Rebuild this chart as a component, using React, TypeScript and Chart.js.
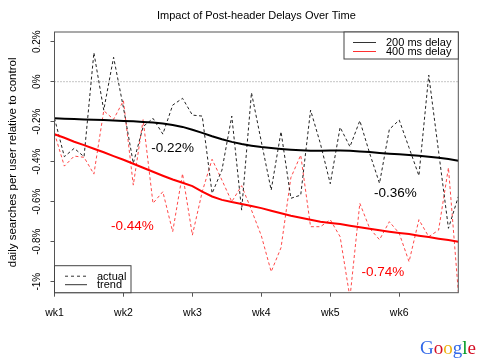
import React, { useEffect, useRef } from "react";
import { Chart, registerables } from "chart.js";

Chart.register(...registerables);

const days = [0,1,2,3,4,5,6,7,8,9,10,11,12,13,14,15,16,17,18,19,20,21,22,23,24,25,26,27,28,29,30,31,32,33,34,35,36,37,38,39,40,41];
const weekTicks = [0, 7, 14, 21, 28, 35];
const weekLabels = ["wk1", "wk2", "wk3", "wk4", "wk5", "wk6"];
const yTicks = [-1, -0.8, -0.6, -0.4, -0.2, 0, 0.2];
const yTickLabels = ["-1%", "-0.8%", "-0.6%", "-0.4%", "-0.2%", "0%", "0.2%"];

const actual200 = [-0.183,-0.375,-0.333,-0.375,0.145,-0.142,0.122,-0.13,-0.408,-0.225,-0.183,-0.262,-0.117,-0.083,-0.167,-0.172,-0.558,-0.442,-0.172,-0.642,-0.055,-0.30,-0.542,-0.25,-0.583,-0.567,-0.142,-0.31,-0.51,-0.228,-0.325,-0.195,-0.358,-0.508,-0.238,-0.192,-0.33,-0.47,0.033,-0.35,-0.733,-0.575];
const actual400 = [-0.258,-0.422,-0.372,-0.378,-0.462,-0.145,-0.188,-0.095,-0.517,-0.19,-0.608,-0.55,-0.75,-0.46,-0.767,-0.55,-0.388,-0.492,-0.6,-0.52,-0.642,-0.77,-0.95,-0.83,-0.48,-0.367,-0.725,-0.725,-0.69,-0.775,-1.08,-0.608,-0.733,-0.79,-0.70,-0.758,-0.90,-0.69,-0.775,-0.742,-0.43,-1.05];
const trend200 = [-0.183,-0.185,-0.187,-0.189,-0.19,-0.192,-0.194,-0.196,-0.198,-0.201,-0.204,-0.209,-0.216,-0.226,-0.24,-0.256,-0.273,-0.288,-0.301,-0.312,-0.32,-0.327,-0.332,-0.336,-0.34,-0.343,-0.345,-0.345,-0.344,-0.344,-0.345,-0.349,-0.352,-0.356,-0.36,-0.363,-0.366,-0.37,-0.375,-0.38,-0.387,-0.395];
const trend400 = [-0.263,-0.28,-0.30,-0.317,-0.335,-0.353,-0.372,-0.39,-0.41,-0.43,-0.45,-0.47,-0.489,-0.505,-0.522,-0.55,-0.574,-0.591,-0.602,-0.611,-0.621,-0.632,-0.645,-0.658,-0.67,-0.68,-0.69,-0.70,-0.706,-0.712,-0.72,-0.728,-0.735,-0.743,-0.75,-0.756,-0.762,-0.77,-0.777,-0.785,-0.792,-0.80];

const seriesNames = ["200 ms delay", "400 ms delay"];
const styleNames = ["actual", "trend"];
const titleText = "Impact of Post-header Delays Over Time";
const yTitle = "daily searches per user relative to control";
const annotTexts = ["-0.22%", "-0.36%", "-0.44%", "-0.74%"];
const annotDays = [12.0, 34.6, 7.9, 33.35];
const annotValues = [-0.332, -0.557, -0.722, -0.952];
const annotColors = ["#000000", "#000000", "#ff0000", "#ff0000"];
const logoLetters = ["G", "o", "o", "g", "l", "e"];
const logoColors = ["#3369e8", "#d50f25", "#eeb211", "#3369e8", "#009925", "#d50f25"];

const FONT = "'Liberation Sans', Arial, sans-serif";

const rPlugin = {
  id: "rstyle",
  beforeDatasetsDraw(chart: any) {
    const { ctx, chartArea } = chart;
    const y0 = chart.scales.y.getPixelForValue(0);
    ctx.save();
    ctx.strokeStyle = "#8a8a8a";
    ctx.lineWidth = 1;
    ctx.setLineDash([1, 2]);
    ctx.beginPath();
    ctx.moveTo(chartArea.left, y0);
    ctx.lineTo(chartArea.right, y0);
    ctx.stroke();
    ctx.restore();
  },
  afterDraw(chart: any) {
    const { ctx, chartArea } = chart;
    const xs = chart.scales.x;
    const ys = chart.scales.y;
    ctx.save();
    ctx.strokeStyle = "#555";
    ctx.lineWidth = 1;
    ctx.setLineDash([]);
    ctx.strokeRect(chartArea.left, chartArea.top, chartArea.right - chartArea.left, chartArea.bottom - chartArea.top);

    ctx.fillStyle = "#000";
    ctx.font = `11px ${FONT}`;
    ctx.textAlign = "center";
    ctx.textBaseline = "middle";
    ctx.fillText(titleText, (chartArea.left + chartArea.right) / 2, 16);

    ctx.font = `10.5px ${FONT}`;
    weekTicks.forEach((v, i) => {
      ctx.fillText(weekLabels[i], xs.getPixelForValue(v), 313);
    });
    ctx.font = `10px ${FONT}`;
    yTicks.forEach((v, i) => {
      ctx.save();
      ctx.translate(37, ys.getPixelForValue(v));
      ctx.rotate(-Math.PI / 2);
      ctx.fillText(yTickLabels[i], 0, 0);
      ctx.restore();
    });
    ctx.save();
    ctx.font = `11.5px ${FONT}`;
    ctx.translate(13, (chartArea.top + chartArea.bottom) / 2);
    ctx.rotate(-Math.PI / 2);
    ctx.fillText(yTitle, 0, 0);
    ctx.restore();

    ctx.font = `13.5px ${FONT}`;
    annotTexts.forEach((t, i) => {
      ctx.fillStyle = annotColors[i];
      ctx.fillText(t, xs.getPixelForValue(annotDays[i]), ys.getPixelForValue(annotValues[i]));
    });

    const lx0 = 344, ly0 = chartArea.top;
    ctx.fillStyle = "#fff";
    ctx.fillRect(lx0, ly0, chartArea.right - lx0, 27);
    ctx.strokeStyle = "#444";
    ctx.strokeRect(lx0, ly0, chartArea.right - lx0, 27);
    ctx.font = `11px ${FONT}`;
    ctx.textAlign = "left";
    const legColors = ["#333", "#ff3030"];
    seriesNames.forEach((n, i) => {
      const yy = ly0 + 10.5 + i * 9;
      ctx.strokeStyle = legColors[i];
      ctx.lineWidth = 1;
      ctx.beginPath();
      ctx.moveTo(353, yy);
      ctx.lineTo(376, yy);
      ctx.stroke();
      ctx.fillStyle = "#000";
      ctx.fillText(n, 386, yy + 0.5);
    });

    const bx0 = chartArea.left, by0 = chartArea.bottom - 27;
    ctx.fillStyle = "#fff";
    ctx.fillRect(bx0, by0, 131 - bx0, 27);
    ctx.strokeStyle = "#444";
    ctx.strokeRect(bx0, by0, 131 - bx0, 27);
    styleNames.forEach((n, i) => {
      const yy = by0 + 10.5 + i * 8.5;
      ctx.strokeStyle = "#333";
      ctx.lineWidth = 1;
      ctx.setLineDash(i === 0 ? [3, 3] : []);
      ctx.beginPath();
      ctx.moveTo(65, yy);
      ctx.lineTo(87, yy);
      ctx.stroke();
      ctx.setLineDash([]);
      ctx.fillStyle = "#000";
      ctx.fillText(n, 97, yy + 0.5);
    });

    ctx.font = `19px 'Liberation Serif', 'DejaVu Serif', serif`;
    ctx.textBaseline = "alphabetic";
    let gx = 420;
    logoLetters.forEach((c, i) => {
      ctx.fillStyle = logoColors[i];
      ctx.fillText(c, gx, 354);
      gx += ctx.measureText(c).width;
    });
    ctx.restore();
  },
};

export default function App() {
  const ref = useRef<HTMLCanvasElement | null>(null);
  useEffect(() => {
    if (!ref.current) return;
    const chart = new Chart(ref.current, {
      type: "line",
      data: {
        labels: days,
        datasets: [
          { label: "trend200", data: trend200, borderColor: "#000", borderWidth: 2, pointRadius: 0, tension: 0, fill: false },
          { label: "trend400", data: trend400, borderColor: "#ff0000", borderWidth: 2, pointRadius: 0, tension: 0, fill: false },
          { label: "actual200", data: actual200, borderColor: "#222", borderWidth: 1, borderDash: [3, 2.5], pointRadius: 0, tension: 0, fill: false },
          { label: "actual400", data: actual400, borderColor: "rgba(255,40,40,0.85)", borderWidth: 1, borderDash: [3, 2.5], pointRadius: 0, tension: 0, fill: false },
        ],
      },
      options: {
        responsive: false,
        animation: false,
        devicePixelRatio: 1,
        layout: { padding: { top: 32, right: 21.7, bottom: 37.3, left: 0 } },
        plugins: { legend: { display: false }, tooltip: { enabled: false }, title: { display: false } },
        scales: {
          x: {
            type: "linear",
            min: 0,
            max: 41,
            afterBuildTicks: (axis: any) => { axis.ticks = weekTicks.map((v) => ({ value: v })); },
            afterFit: (axis: any) => { axis.height = 30; },
            ticks: { display: false },
            grid: { display: true, drawOnChartArea: false, drawTicks: true, tickLength: 4, color: "#555" },
            border: { display: false },
          },
          y: {
            type: "linear",
            min: -1.055,
            max: 0.2485,
            afterBuildTicks: (axis: any) => { axis.ticks = yTicks.map((v) => ({ value: v })); },
            afterFit: (axis: any) => { axis.width = 54.5; },
            ticks: { display: false },
            grid: { display: true, drawOnChartArea: false, drawTicks: true, tickLength: 4, color: "#555" },
            border: { display: false },
          },
        },
      },
      plugins: [rPlugin],
    } as any);
    return () => chart.destroy();
  }, []);
  return (
    <div style={{ position: "absolute", left: 0, top: 0, width: 480, height: 360, background: "#fff" }}>
      <canvas ref={ref} width={480} height={360} />
    </div>
  );
}
